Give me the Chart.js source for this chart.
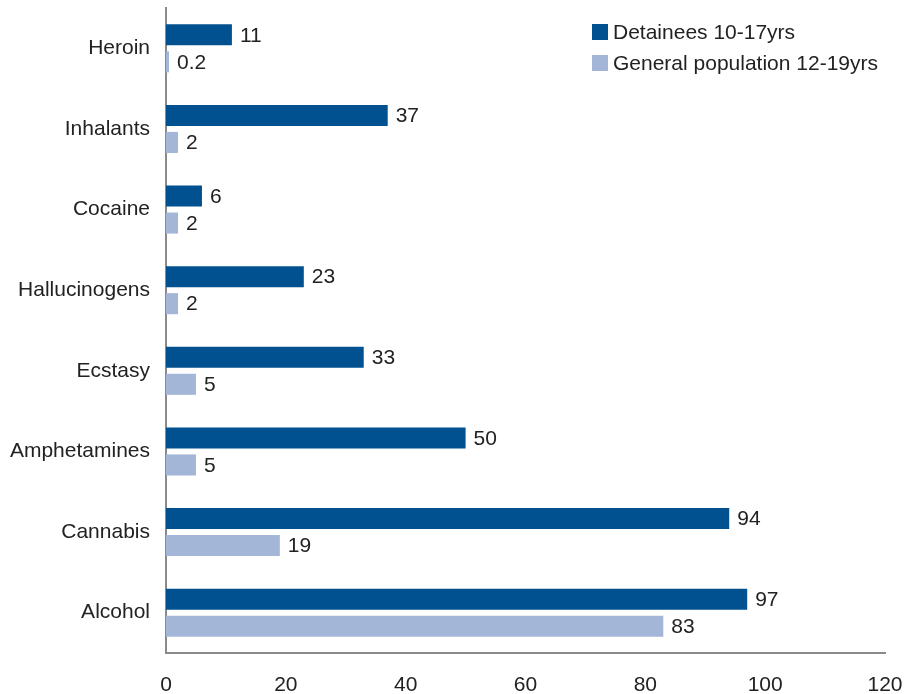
<!DOCTYPE html>
<html lang="en">
<head>
<meta charset="UTF-8">
<title>Drug use: detainees vs general population</title>
<script src="https://cdn.jsdelivr.net/npm/chart.js"></script>
<style>
  body{margin:0;background:#fff}
  .wrap{position:relative;width:905px;height:694px}
</style>
</head>
<body>
<div class="wrap"><canvas id="drugChart"></canvas></div>
<script>
const categories = ['Heroin','Inhalants','Cocaine','Hallucinogens','Ecstasy','Amphetamines','Cannabis','Alcohol'];
const detainees = [11,37,6,23,33,50,94,97];
const generalPop = [0.2,2,2,2,5,5,19,83];
const seriesNames = ['Detainees 10-17yrs','General population 12-19yrs'];
const xTicks = [0,20,40,60,80,100,120];

const DARK = '#01508f', LIGHT = '#a4b6d8', AXIS = '#8a8a8a', TEXT = '#222';
const FONT = {family:"'Liberation Sans', Arial, sans-serif", size:21};

// value labels at the end of each bar
const valueLabels = {
  id:'valueLabels',
  afterDatasetsDraw(chart){
    const ctx = chart.ctx;
    ctx.save();
    ctx.font = `${FONT.size}px ${FONT.family}`;
    ctx.fillStyle = TEXT;
    ctx.textBaseline = 'middle';
    ctx.textAlign = 'left';
    chart.data.datasets.forEach((ds,i)=>{
      chart.getDatasetMeta(i).data.forEach((bar,j)=>{
        ctx.fillText(String(ds.data[j]), bar.x + 8, bar.y + 1);
      });
    });
    ctx.restore();
  }
};

// legend box in the top right corner
const cornerLegend = {
  id:'cornerLegend',
  afterDraw(chart){
    const ctx = chart.ctx;
    ctx.save();
    ctx.font = `${FONT.size}px ${FONT.family}`;
    ctx.textBaseline = 'middle';
    chart.data.datasets.forEach((ds,i)=>{
      const y = 32 + i*31;
      ctx.fillStyle = ds.backgroundColor;
      ctx.fillRect(592, y-8, 16, 16);
      ctx.fillStyle = TEXT;
      ctx.fillText(ds.label, 613, y+1);
    });
    ctx.restore();
  }
};

new Chart(document.getElementById('drugChart'), {
  type:'bar',
  data:{
    labels:categories,
    datasets:[
      {label:seriesNames[0], data:detainees, backgroundColor:DARK},
      {label:seriesNames[1], data:generalPop, backgroundColor:LIGHT, minBarLength:3}
    ]
  },
  options:{
    indexAxis:'y',
    responsive:true,
    maintainAspectRatio:false,
    animation:false,
    categoryPercentage:0.67,
    barPercentage:0.78,
    layout:{padding:{top:8,right:20,bottom:0,left:0}},
    plugins:{legend:{display:false},tooltip:{enabled:false}},
    scales:{
      x:{
        min:0,max:120,
        afterBuildTicks(axis){ axis.ticks = xTicks.map(v=>({value:v})); },
        grid:{display:false,drawTicks:false},
        border:{display:true,color:AXIS,width:2},
        ticks:{color:TEXT,font:FONT,padding:20,maxRotation:0},
        afterFit(axis){ axis.height = 41; axis.paddingLeft = 0; axis.paddingRight = 0; }
      },
      y:{
        grid:{display:false,drawTicks:false},
        border:{display:true,color:AXIS,width:2},
        ticks:{color:TEXT,font:FONT,padding:16},
        afterFit(axis){ axis.width = 166; axis.paddingTop = 0; axis.paddingBottom = 0; }
      }
    }
  },
  plugins:[valueLabels,cornerLegend]
});
</script>
</body>
</html>
